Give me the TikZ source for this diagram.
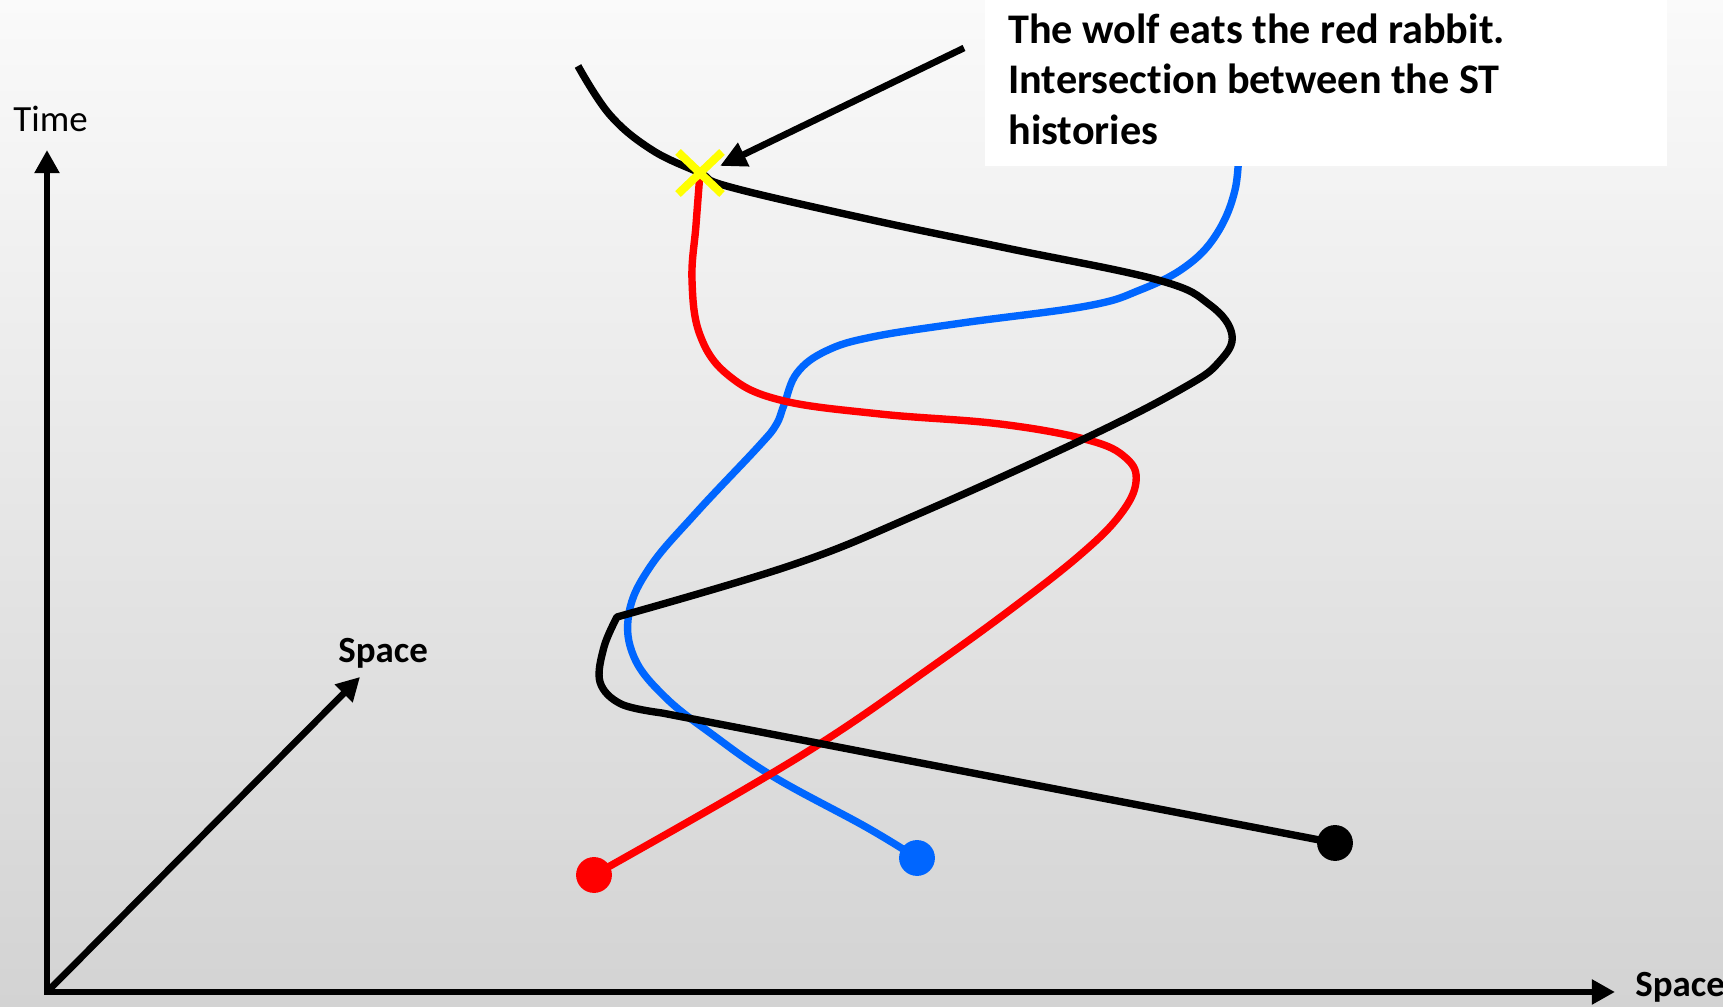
\documentclass[tikz,border=0pt]{standalone}
\usepackage{fontspec}
\setmainfont[Ligatures=NoCommon]{Carlito}
\usetikzlibrary{arrows.meta}
\definecolor{stblue}{HTML}{0066FF}
\definecolor{stred}{HTML}{FF0000}
\definecolor{stcross}{HTML}{FFFF00}
\definecolor{bgtop}{HTML}{FAFAFA}
\definecolor{bgbottom}{HTML}{D3D3D3}

\begin{document}
\begin{tikzpicture}[x=0.01cm, y=-0.01cm, >={Triangle[length=6.6pt,width=6.8pt]},
    line width=1.9pt, font=\fontsize{10.5}{12.6}\selectfont\bfseries,
    hist/.style={line width=2.1pt, line join=round},
    lbl/.style={anchor=base west, inner sep=0pt}]
  \useasboundingbox (0,0) rectangle (1723,1007);
  \shade[top color=bgtop, bottom color=bgbottom] (0,0) rectangle (1723,1007);

  \coordinate (O)    at (47,992);
  \coordinate (TT)   at (47,150);     % time tip
  \coordinate (SX)   at (1615,992);   % space tip, right
  \coordinate (SD)   at (360,677);    % space tip, depth
  \coordinate (eat)  at (700,173);    % wolf meets rabbit
  \coordinate (tail) at (964,48);
  \coordinate (hit)  at (720,166);    % arrow stops at the cross
  \coordinate (rabbit0) at (594,875);
  \coordinate (bunny0)  at (917,858);
  \coordinate (wolf0)   at (1335,843);
  \coordinate (kink)    at (617,617);

  % axes
  \draw[<->] (TT) -- (O) -- (SX);
  \draw[->] (O) -- (SD);
  \node[lbl, font=\fontsize{10.5}{12.6}\selectfont] (time) at (10,132) {Time};
  \node[lbl] (spaced) at (335,663) {Space};
  \node[lbl] (spacex) at (1632,997) {Space};

  % blue rabbit
  \draw[hist, stblue] plot[smooth, tension=0.65] coordinates {(1239,140) (1235,190)
      (1216,235) (1185,267) (1140,290) (1087,306) (962,323) (872,337) (826,351) (797,373)
      (784,405) (776,425) (758,447) (696,513) (650,567) (629,613) (634,657) (665,697)
      (713,735) (774,777) (866,827) (bunny0)};
  \fill[stblue] (bunny0) circle[radius=5.1pt];

  % red rabbit
  \draw[hist, stred] plot[smooth, tension=0.65] coordinates {(eat) (696,225) (692,280)
      (700,335) (728,375) (780,400) (880,414) (1000,424) (1088,440) (1126,458) (1136,482)
      (1120,515) (1080,555) (1010,610) (930,668) (835,734) (740,792) (rabbit0)};
  \fill[stred] (rabbit0) circle[radius=5.1pt];

  % wolf
  \draw[hist] plot[smooth, tension=0.65] coordinates {(578,66) (610,115) (652,150) (eat)
      (730,187) (872,220) (1006,248) (1158,280) (1210,305) (1232,335) (1219,362) (1185,387)
      (1088,437) (916,515) (792,565) (kink)}
    -- plot[smooth, tension=0.6] coordinates {(kink) (604,647) (600,682) (621,704) (662,713)}
    -- (wolf0);
  \fill (wolf0) circle[radius=5.1pt];

  % caption
  \fill[white] (985,0) rectangle (1667,166);
  \node[lbl, align=left, font=\fontsize{12}{14.5}\selectfont\bfseries] (note) at (1005,145)
    {The wolf eats the red rabbit.\\Intersection between the ST\\histories};
  \draw[->, >={Triangle[length=7.5pt,width=7pt]}] (tail) -- (hit);

  % the meeting point
  \draw[stcross, line width=2.3pt] (eat) ++(-22,-21) -- ++(44,42);
  \draw[stcross, line width=2.3pt] (eat) ++(-22,21) -- ++(44,-42);
\end{tikzpicture}
\end{document}
